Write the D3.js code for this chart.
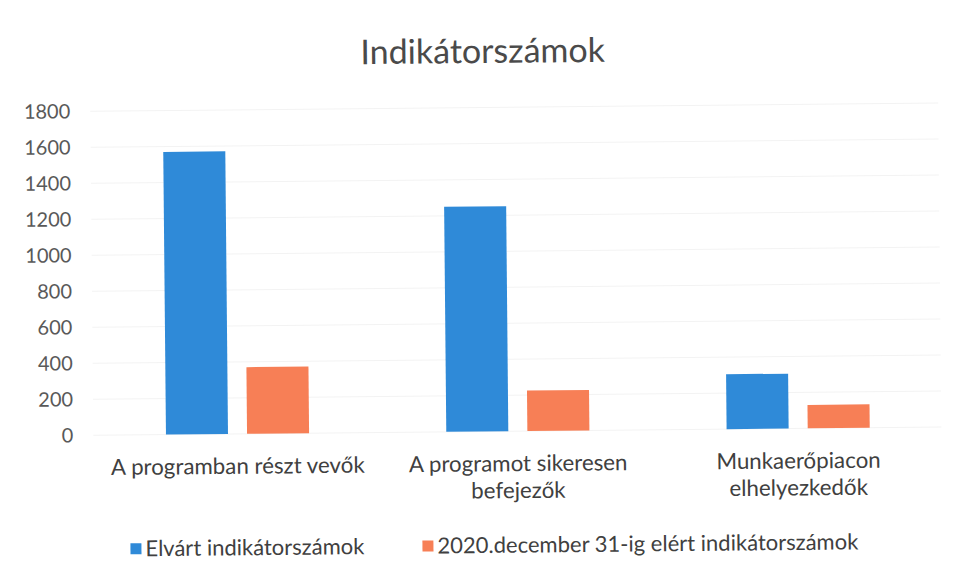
<!DOCTYPE html>
<html>
<head>
<meta charset="utf-8">
<script src="https://cdn.jsdelivr.net/npm/d3@7"></script>
<style>
  html, body { margin: 0; padding: 0; background: #fff; }
  text { font-family: Lato, "Open Sans", sans-serif; }
</style>
</head>
<body>
<svg id="chart" width="958" height="582"></svg>
<script>
const title = "Indikátorszámok";
const categories = [
  ["A programban részt vevők"],
  ["A programot sikeresen", "befejezők"],
  ["Munkaerőpiacon", "elhelyezkedők"]
];
const seriesNames = ["Elvárt indikátorszámok", "2020.december 31-ig elért indikátorszámok"];
const expected = [1570, 1250, 305];
const achieved = [370, 225, 130];
const yTicks = [0, 200, 400, 600, 800, 1000, 1200, 1400, 1600, 1800];
const colors = ["#2f8ad8", "#f77f56"];

const svg = d3.select("#chart");
const root = svg.append("g").attr("transform", "rotate(-0.55 479 291)");

const catKeys = categories.map((c, i) => i);
const x0 = d3.scaleBand().domain(catKeys).range([96, 937]).paddingInner(0).paddingOuter(0);
const x1 = d3.scaleBand().domain([0, 1]).range([0, x0.bandwidth()]).paddingInner(0.235).paddingOuter(0.846);
const y = d3.scaleLinear().domain([0, 1800]).range([431.5, 107.5]);

// gridlines
root.append("g")
  .selectAll("line").data(yTicks).join("line")
  .attr("x1", 92).attr("x2", 940)
  .attr("y1", d => y(d)).attr("y2", d => y(d))
  .attr("stroke", "#f3f3f3").attr("stroke-width", 1);

// y axis
const yAxis = d3.axisLeft(y).tickValues(yTicks).tickSize(0).tickPadding(0).tickFormat(d3.format("d"));
const gy = root.append("g").attr("transform", "translate(72,0)").call(yAxis);
gy.select(".domain").remove();
gy.selectAll("text").attr("font-size", 20).attr("fill", "#595959").attr("font-family", "Lato");

// bars
const data = catKeys.map(i => [expected[i], achieved[i]]);
const groups = root.append("g").selectAll("g").data(data).join("g")
  .attr("transform", (d, i) => `translate(${x0(i)},0)`);
groups.selectAll("rect").data(d => d.map((v, s) => ({v, s}))).join("rect")
  .attr("x", d => x1(d.s))
  .attr("width", x1.bandwidth())
  .attr("y", d => y(d.v))
  .attr("height", d => y(0) - y(d.v))
  .attr("fill", d => colors[d.s]);

// category labels
const xAxis = d3.axisBottom(x0).tickSize(0).tickFormat("");
const gx = root.append("g").attr("transform", `translate(0,${y(0)})`).call(xAxis);
gx.select(".domain").remove();
gx.selectAll(".tick").each(function(i) {
  const t = d3.select(this).append("text")
    .attr("text-anchor", "middle").attr("fill", "#404040").attr("font-size", 22.3);
  categories[i].forEach((line, k) => {
    t.append("tspan").attr("x", 0).attr("y", 40 + k * 27).text(line);
  });
});

// title
root.append("text").attr("x", 485).attr("y", 63).attr("text-anchor", "middle")
  .attr("font-size", 34).attr("fill", "#4a4a4a").text(title);

// legend
const legendX = [128, 420];
const lg = root.append("g").selectAll("g").data(seriesNames).join("g")
  .attr("transform", (d, i) => `translate(${legendX[i]},545)`);
lg.append("rect").attr("x", 0).attr("y", -5).attr("width", 11).attr("height", 11)
  .attr("fill", (d, i) => colors[i]);
lg.append("text").attr("x", 15).attr("y", 8).attr("font-size", 22).attr("fill", "#404040").text(d => d);
</script>
</body>
</html>
